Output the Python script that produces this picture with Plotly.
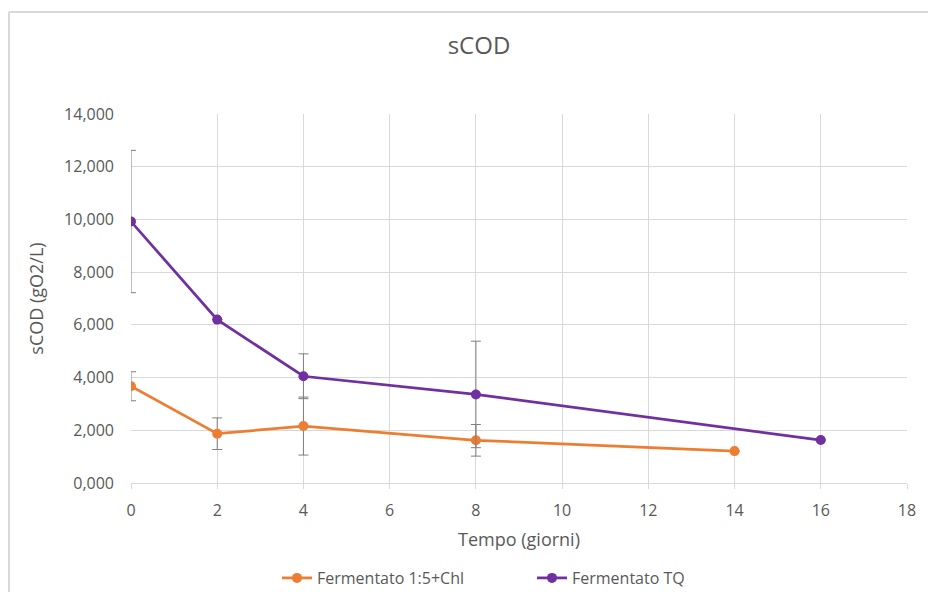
import plotly.graph_objects as go

days_chl = [0, 2, 4, 8, 14]
scod_chl = [3.67, 1.87, 2.16, 1.62, 1.21]
err_chl = [0.55, 0.60, 1.10, 0.60, 0.0]

days_tq = [0, 2, 4, 8, 16]
scod_tq = [9.92, 6.20, 4.05, 3.36, 1.63]
err_tq = [2.70, 0.0, 0.85, 2.02, 0.0]

name_chl = "Fermentato 1:5+Chl"
name_tq = "Fermentato TQ"

x_ticks = [0, 2, 4, 6, 8, 10, 12, 14, 16, 18]
y_ticks = [0, 2, 4, 6, 8, 10, 12, 14]

FONT = "Open Sans, Liberation Sans, sans-serif"
GRAY = "#595959"
OFF = 7  # page offset of the plot div
W, H = 920, 584

L, R, T, B = 130 - OFF, 906 - OFF, 113 - OFF, 482 - OFF
PW, PH = R - L, B - T

fig = go.Figure()
fig.add_trace(go.Scatter(
    x=days_chl, y=scod_chl, name=name_chl, mode="lines+markers",
    line=dict(color="#ED7D31", width=2.75),
    marker=dict(color="#ED7D31", size=10),
    error_y=dict(type="data", array=err_chl, visible=True, color="#7f7f7f", thickness=1, width=5),
))
fig.add_trace(go.Scatter(
    x=days_tq, y=scod_tq, name=name_tq, mode="lines+markers",
    line=dict(color="#7030A0", width=2.75),
    marker=dict(color="#7030A0", size=10),
    error_y=dict(type="data", array=err_tq, visible=True, color="#7f7f7f", thickness=1, width=5),
))

fig.update_layout(
    width=W, height=H,
    margin=dict(l=L, r=W - R, t=T, b=H - B),
    paper_bgcolor="white", plot_bgcolor="white",
    separators=",.",
    font=dict(family=FONT, color=GRAY, size=16),
    title=dict(text="sCOD", x=(478 - OFF) / W, xref="container", xanchor="center",
               y=1 - (45 - OFF) / H, yref="container", yanchor="middle",
               font=dict(size=24, color=GRAY, family=FONT)),
    xaxis=dict(range=[0, 18], tickvals=x_ticks, showgrid=True, gridcolor="#d9d9d9", gridwidth=1,
               zeroline=False, showline=True, linecolor="#d9d9d9", linewidth=1,
               ticks="outside", ticklen=5, tickcolor="#d9d9d9", ticklabelstandoff=8,
               title=dict(text="Tempo (giorni)", font=dict(size=18, color=GRAY), standoff=13),
               tickfont=dict(size=16, color=GRAY)),
    yaxis=dict(range=[0, 14], tickvals=y_ticks, tickformat=",.3f", showgrid=True, gridcolor="#d9d9d9",
               gridwidth=1, zeroline=False, showline=False, ticklabelstandoff=16,
               title=dict(text="sCOD (gO2/L)", font=dict(size=18, color=GRAY), standoff=15),
               tickfont=dict(size=16, color=GRAY)),
    legend=dict(orientation="h", x=(276 - OFF) / W, xref="container", xanchor="left",
                y=1 - (577 - OFF) / H, yref="container", yanchor="middle",
                font=dict(size=16, color=GRAY), itemwidth=30,
                entrywidth=210, entrywidthmode="pixels"),
    shapes=[
        dict(type="line", xref="paper", yref="paper", x0=(8 - OFF - L) / PW, x1=(960 - L) / PW,
             y0=(B - (11 - OFF)) / PH, y1=(B - (11 - OFF)) / PH, line=dict(color="#d9d9d9", width=2)),
        dict(type="line", xref="paper", yref="paper", x0=(8 - OFF - L) / PW, x1=(8 - OFF - L) / PW,
             y0=(B - (11 - OFF)) / PH, y1=(B - 620) / PH, line=dict(color="#d9d9d9", width=2)),
    ],
)

fig.write_html("out.html")
